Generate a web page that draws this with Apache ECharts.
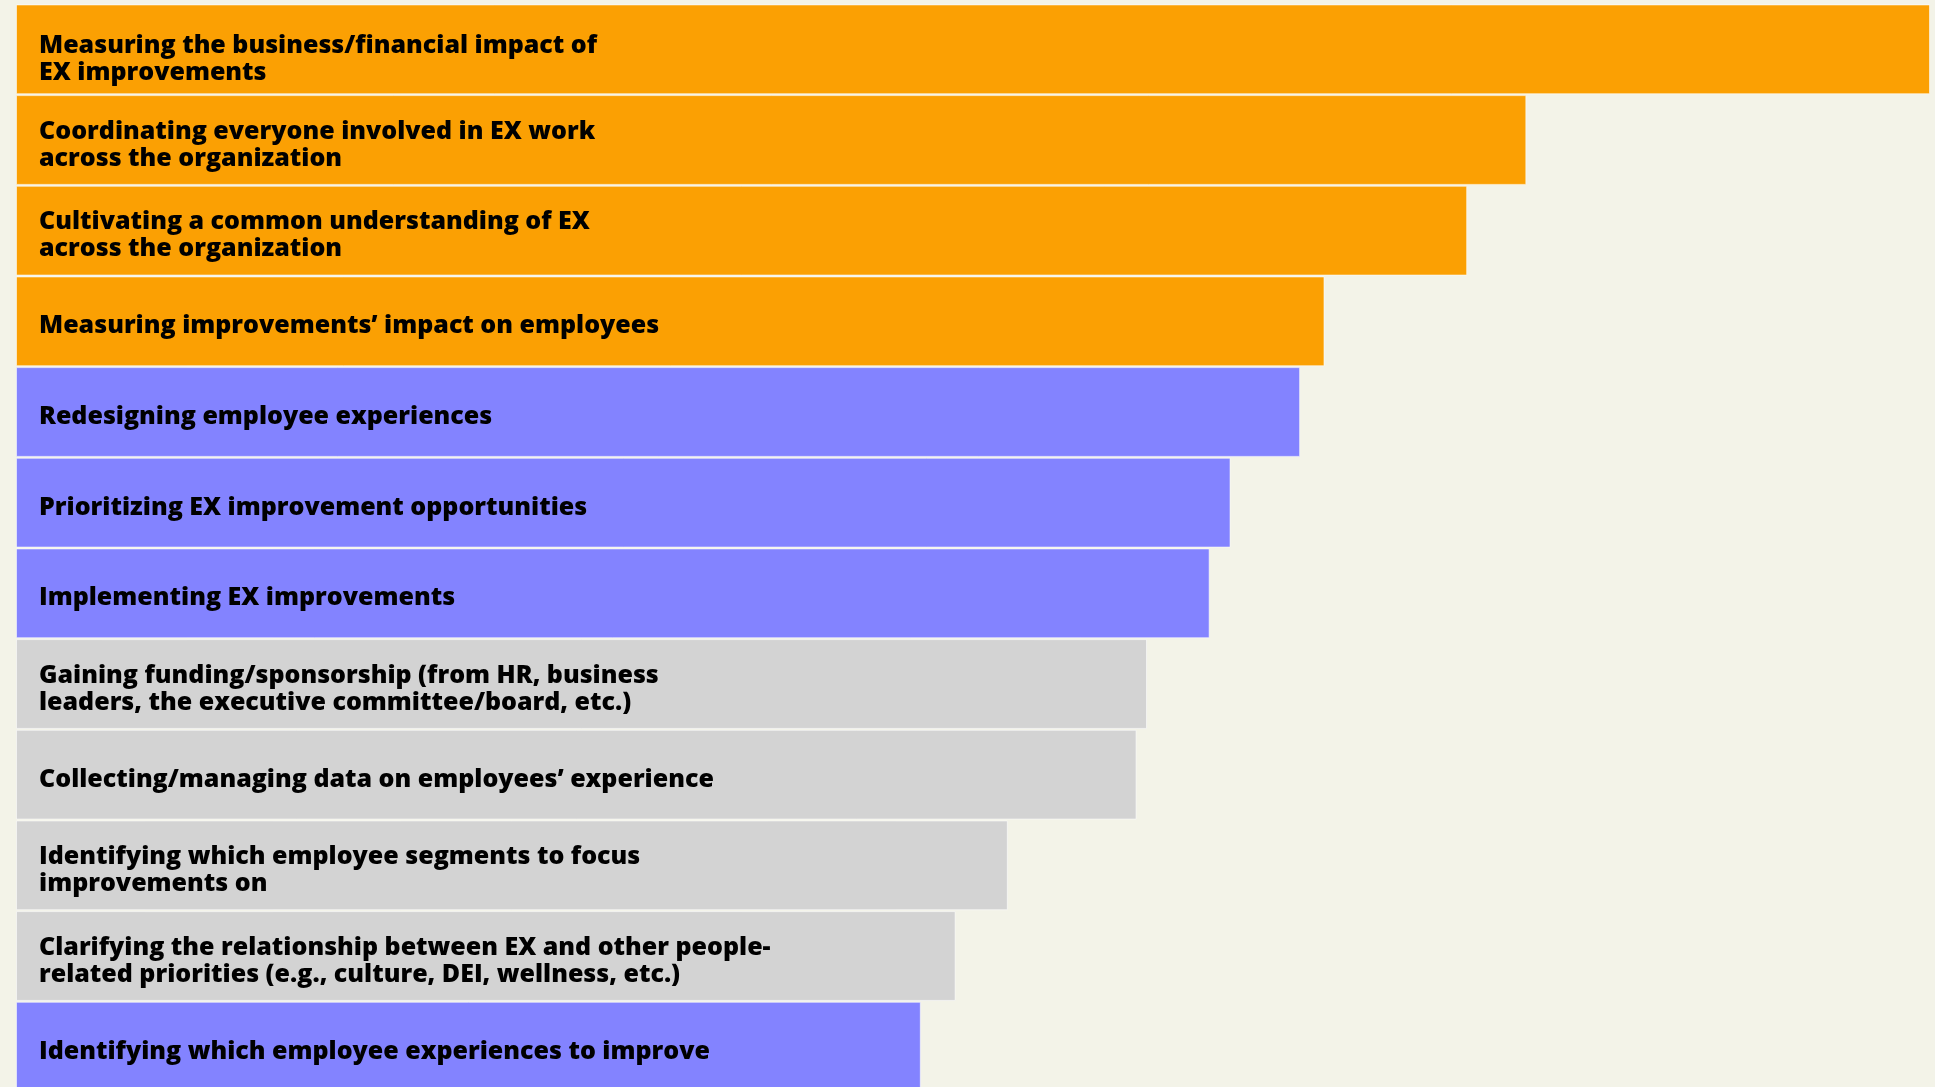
<!DOCTYPE html>
<html>
<head>
<meta charset="utf-8">
<script src="https://cdn.jsdelivr.net/npm/echarts@6/dist/echarts.min.js"></script>
<style>
  html, body { margin: 0; padding: 0; background: #f3f3e8; overflow: hidden; }
  #chart { width: 1935px; height: 1100px; }
</style>
</head>
<body>
<div id="chart"></div>
<script>
const categories = [
  'Measuring the business/financial impact of\nEX improvements',
  'Coordinating everyone involved in EX work\nacross the organization',
  'Cultivating a common understanding of EX\nacross the organization',
  'Measuring improvements\u2019 impact on employees',
  'Redesigning employee experiences',
  'Prioritizing EX improvement opportunities',
  'Implementing EX improvements',
  'Gaining funding/sponsorship (from HR, business\nleaders, the executive committee/board, etc.)',
  'Collecting/managing data on employees\u2019 experience',
  'Identifying which employee segments to focus\nimprovements on',
  'Clarifying the relationship between EX and other people-\nrelated priorities (e.g., culture, DEI, wellness, etc.)',
  'Identifying which employee experiences to improve'
]
const values = [55, 43.4, 41.7, 37.6, 36.9, 34.9, 34.3, 32.5, 32.2, 28.5, 27.0, 26.0]
const groups = ['orange', 'orange', 'orange', 'orange', 'purple', 'purple', 'purple', 'gray', 'gray', 'gray', 'gray', 'purple']

const groupColors = { orange: '#fba003', purple: '#8383ff', gray: '#d3d3d3' }

const chart = echarts.init(document.getElementById('chart'))

const option = {
  backgroundColor: '#f3f3e8',
  animation: false,
  grid: { left: 16, right: 5, top: 4, height: 1088, containLabel: false },
  xAxis: {
    type: 'value',
    min: 0,
    max: 55,
    show: false
  },
  yAxis: {
    type: 'category',
    data: categories,
    inverse: true,
    show: false
  },
  series: [
    {
      type: 'bar',
      barCategoryGap: '1%',
      data: values.map((v, i) => ({
        value: v,
        itemStyle: { color: groupColors[groups[i]] },
        // the first label sits a little lower in the original
        label: { offset: [0, i === 0 ? 10 : 5] }
      })),
      itemStyle: {
        borderColor: 'rgba(255,255,255,0.55)',
        borderWidth: 1
      },
      label: {
        show: true,
        position: 'insideLeft',
        distance: 23,
        formatter: p => categories[p.dataIndex],
        color: '#000',
        fontFamily: 'Open Sans',
        fontWeight: 800,
        fontSize: 25,
        lineHeight: 27
      }
    }
  ]
}

chart.setOption(option)
</script>
</body>
</html>
